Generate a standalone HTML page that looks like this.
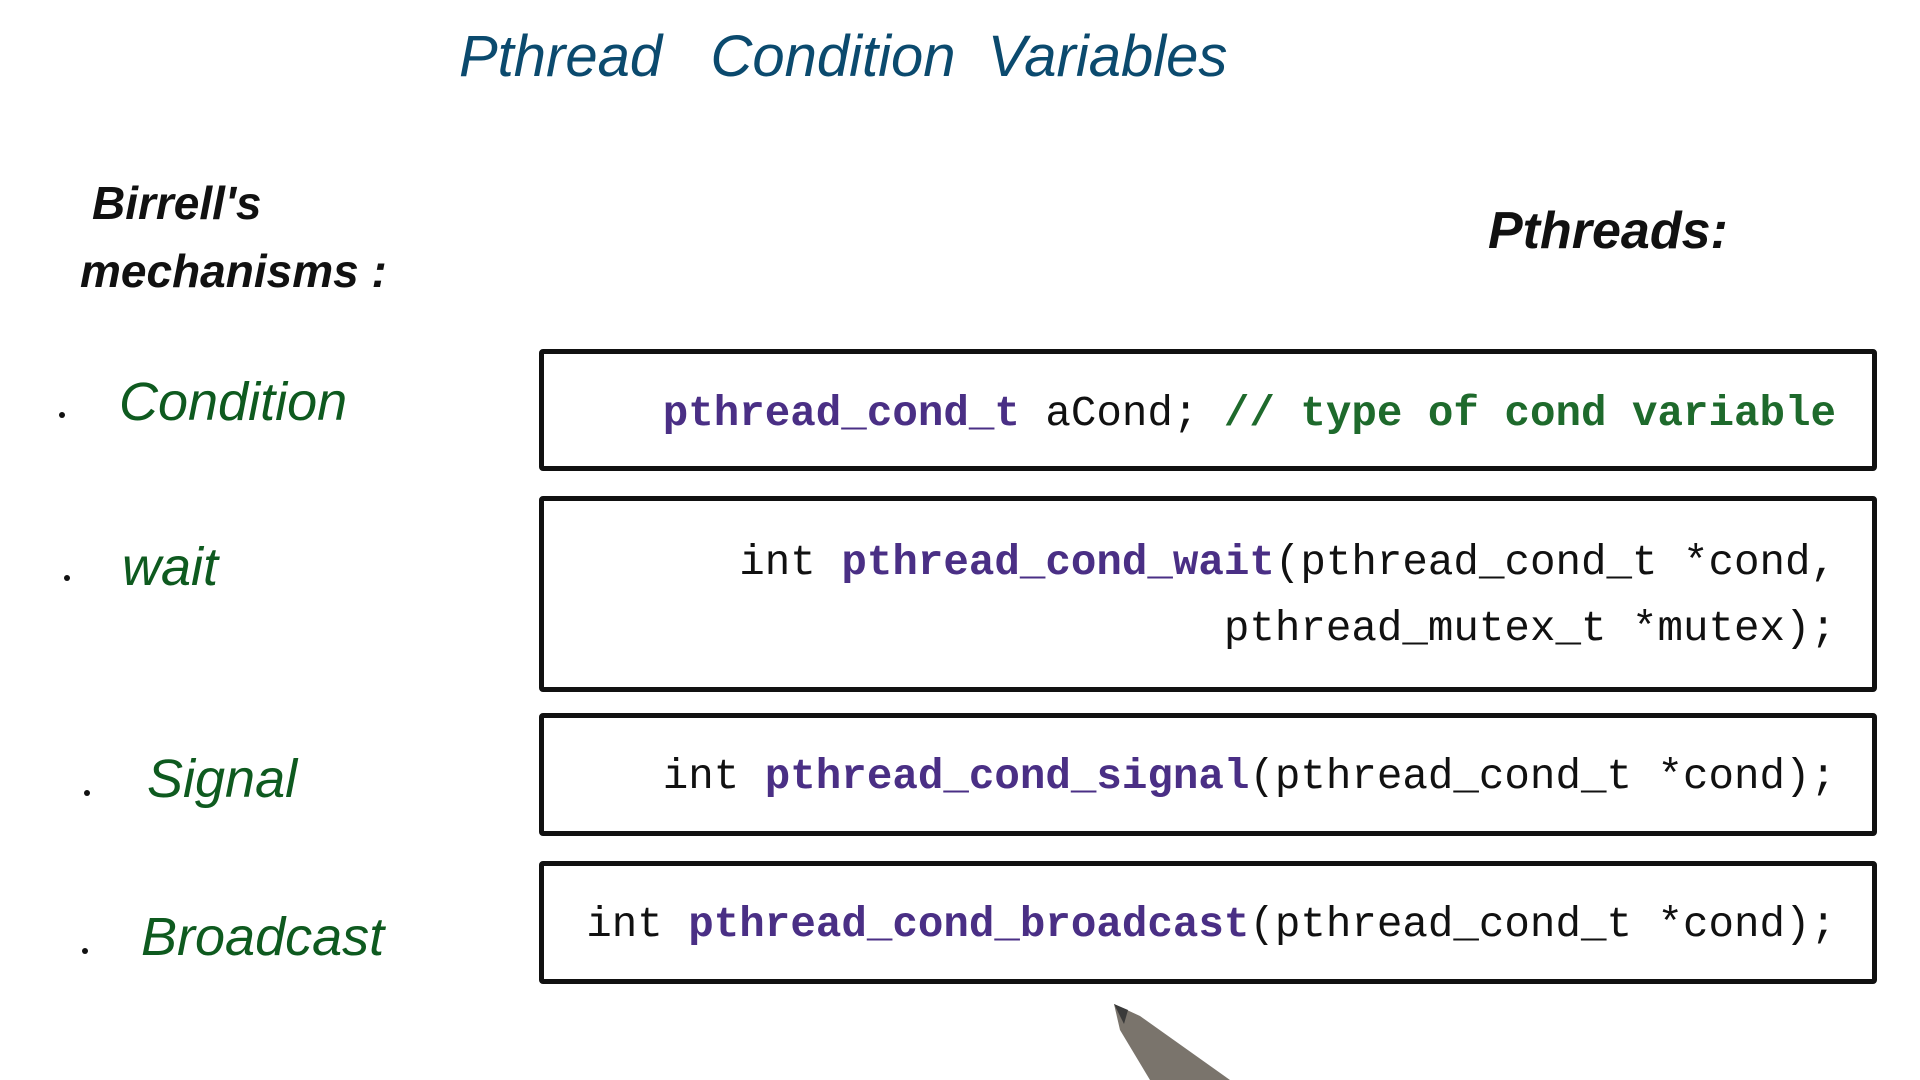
<!DOCTYPE html>
<html><head><meta charset="utf-8"><style>
html,body{margin:0;padding:0;background:#fff;}
body{width:1920px;height:1080px;position:relative;overflow:hidden;font-family:"Liberation Sans",sans-serif;}
.t{position:absolute;white-space:nowrap;line-height:1;}
.hand{font-family:"Liberation Sans",sans-serif;font-style:italic;}
.box{position:absolute;border:5px solid #111;border-radius:4px;box-sizing:border-box;left:539px;width:1338px;}
.code{position:absolute;right:36px;font-family:"Liberation Mono",monospace;font-size:42.5px;color:#111;white-space:pre;line-height:1;}
.p{color:#4a2f85;font-weight:bold;}
.g{color:#1e6a2c;font-weight:bold;}
.lbl{color:#0e5a1f;font-size:54px;}
.dot{position:absolute;width:6px;height:6px;border-radius:50%;background:#111;}
</style></head><body>
<div class="t hand" style="left:459px;top:28px;font-size:58px;color:#0b4a6e;letter-spacing:0px;">Pthread&nbsp;&nbsp; Condition&nbsp; Variables</div>
<div class="t hand" style="left:92px;top:180px;font-size:46px;color:#111;font-weight:bold;">Birrell's</div>
<div class="t hand" style="left:80px;top:248px;font-size:46px;color:#111;font-weight:bold;">mechanisms :</div>
<div class="t hand" style="left:1488px;top:205px;font-size:52px;color:#111;font-weight:bold;">Pthreads:</div>

<div class="dot" style="left:59px;top:412px"></div>
<div class="t hand lbl" style="left:119px;top:375px;">Condition</div>
<div class="dot" style="left:64px;top:575px"></div>
<div class="t hand lbl" style="left:122px;top:540px;">wait</div>
<div class="dot" style="left:84px;top:790px"></div>
<div class="t hand lbl" style="left:147px;top:752px;">Signal</div>
<div class="dot" style="left:82px;top:948px"></div>
<div class="t hand lbl" style="left:141px;top:910px;">Broadcast</div>

<div class="box" style="top:349px;height:122px;">
<div class="code" style="top:39px"><span class="p">pthread_cond_t</span> aCond; <span class="g">// type of cond variable</span></div></div>
<div class="box" style="top:496px;height:196px;">
<div class="code" style="top:41px">int <span class="p">pthread_cond_wait</span>(pthread_cond_t *cond,</div>
<div class="code" style="top:107px">pthread_mutex_t *mutex);</div></div>
<div class="box" style="top:713px;height:123px;">
<div class="code" style="top:38px">int <span class="p">pthread_cond_signal</span>(pthread_cond_t *cond);</div></div>
<div class="box" style="top:861px;height:123px;">
<div class="code" style="top:38px">int <span class="p">pthread_cond_broadcast</span>(pthread_cond_t *cond);</div></div>

<svg style="position:absolute;left:0;top:0" width="1920" height="1080">
<polygon points="1114,1004 1140,1016 1230,1080 1150,1080 1120,1030" fill="#7a746c"/>
<polygon points="1114,1004 1128,1010 1124,1024" fill="#3a3a3a"/>
</svg>
</body></html>
